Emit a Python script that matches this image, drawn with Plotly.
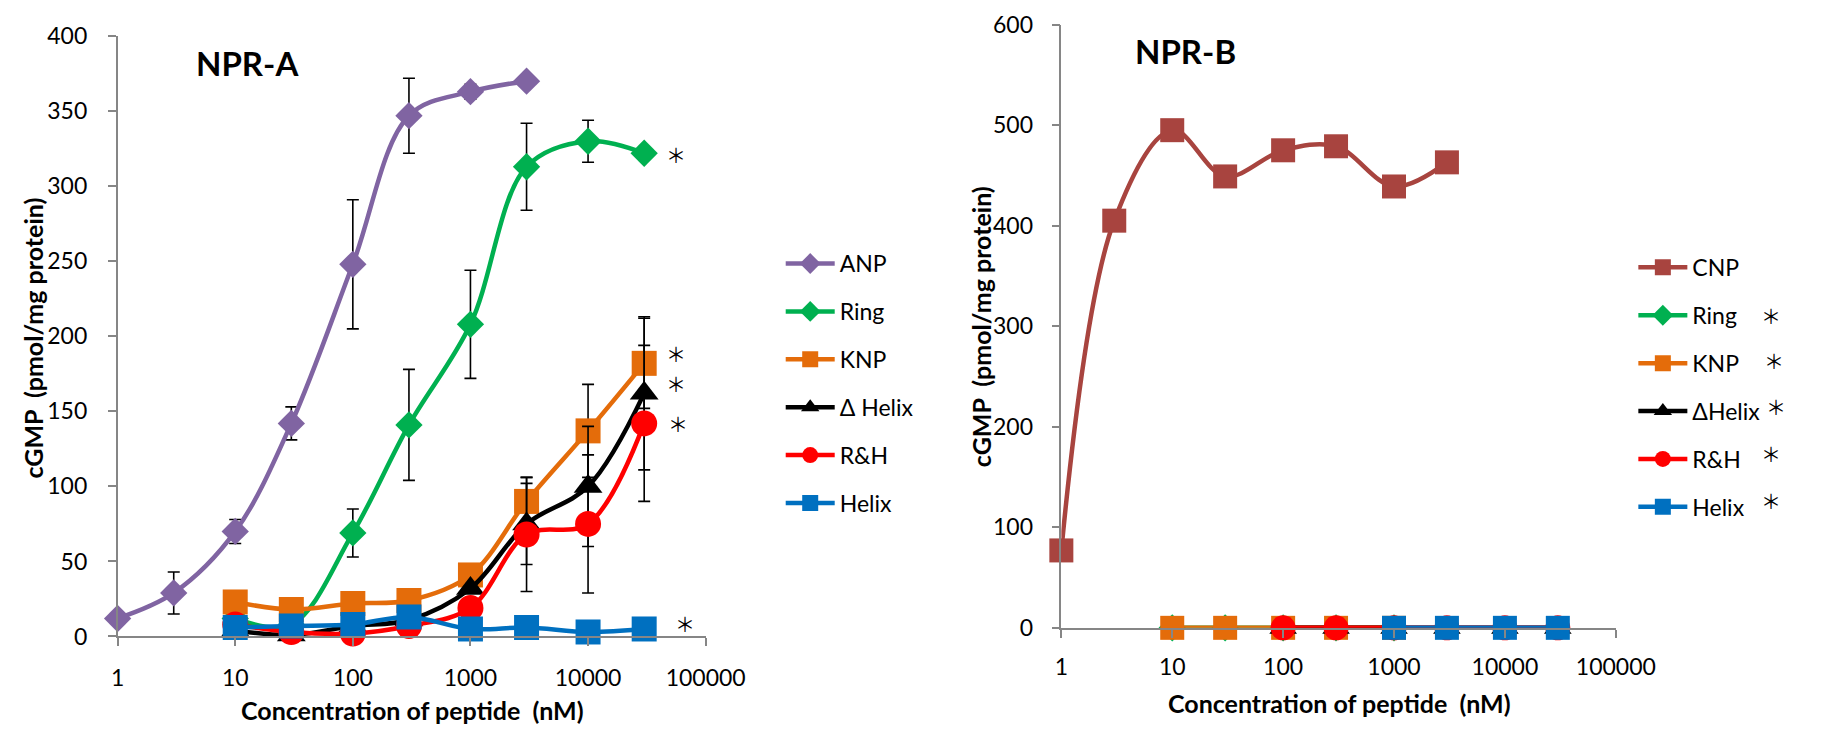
import plotly.graph_objects as go

W, H = 1839, 738

# ---------------- data (NPR-A) ----------------
conc_anp = [1, 3, 10, 30, 100, 300, 1000, 3000]
anp = [12, 29, 70, 142, 248, 347, 363, 370]
anp_err = [0, 14, 8, 11, 43, 25, 5, 0]

conc_a = [10, 30, 100, 300, 1000, 3000, 10000, 30000]
ring_a = [12, 8, 69, 141, 208, 313, 330, 322]
ring_a_err = [0, 0, 16, 37, 36, 29, 14, 0]
knp_a = [23, 18, 22, 24, 41, 90, 137, 182]
knp_a_err = [0, 0, 0, 0, 0, 16, 31, 30]
dhelix_a = [4, 1, 7, 11, 32, 75, 100, 162]
dhelix_a_err = [0, 0, 0, 0, 0, 27, 40, 51]
rh_a = [8, 3, 2, 7, 19, 68, 75, 142]
rh_a_err = [0, 0, 0, 0, 0, 38, 46, 52]
helix_a = [6, 7, 8, 13, 5, 6, 3, 5]

# ---------------- data (NPR-B) ----------------
conc_cnp = [1, 3, 10, 30, 100, 300, 1000, 3000]
cnp = [77, 405, 495, 449, 475, 479, 439, 463]
cnp_err = [0, 0, 3, 3, 7, 6, 10, 9]
conc_ring_b = [10, 30, 100, 300, 1000]
ring_b = [0, 0, 0, 0, 0]
conc_knp_b = [10, 30, 100, 300, 1000]
knp_b = [0, 0, 0, 0, 0]
conc_dhelix_b = [100, 300, 1000, 3000, 10000, 30000]
dhelix_b = [0, 0, 0, 0, 0, 0]
conc_rh_b = [100, 300, 1000, 3000, 10000, 30000]
rh_b = [0, 0, 0, 0, 0, 0]
conc_helix_b = [1000, 3000, 10000, 30000]
helix_b = [0, 0, 0, 0]

x_ticks = [1, 10, 100, 1000, 10000, 100000]
x_tick_text = ["1", "10", "100", "1000", "10000", "100000"]

C_ANP = "#8064A2"
C_RING = "#00B050"
C_KNP = "#E46C0A"
C_DH = "#000000"
C_RH = "#FF0000"
C_HELIX = "#0070C0"
C_CNP = "#A8443F"

FONT = "Lato, 'Open Sans', 'DejaVu Sans', sans-serif"
STAR_FONT = "'Noto Sans CJK SC', 'DejaVu Sans', sans-serif"


def px(x):
    return x / W


def py(y):
    return 1 - y / H


fig = go.Figure()


def add(x, y, name, color, symbol, size, err=None, axes=("x", "y"), legend="legend"):
    tr = dict(
        x=x, y=y, name=name, mode="lines+markers",
        line=dict(color=color, width=4.5, shape="spline", smoothing=1.0),
        marker=dict(color=color, symbol=symbol, size=size, line=dict(width=0)),
        xaxis=axes[0], yaxis=axes[1], legend=legend, legendgroup=legend + name,
        cliponaxis=False,
    )
    if err is not None:
        tr["error_y"] = dict(type="data", array=err, visible=True, color="black",
                             thickness=1.6, width=6)
    fig.add_trace(go.Scatter(**tr))


# NPR-A
add(conc_anp, anp, "ANP", C_ANP, "diamond", 21, anp_err)
add(conc_a, ring_a, "Ring", C_RING, "diamond", 21, ring_a_err)
add(conc_a, knp_a, "KNP", C_KNP, "square", 25, knp_a_err)
add(conc_a, dhelix_a, "Δ Helix", C_DH, "triangle-up", 25, dhelix_a_err)
add(conc_a, rh_a, "R&H", C_RH, "circle", 26, rh_a_err)
add(conc_a, helix_a, "Helix", C_HELIX, "square", 25)

# NPR-B
ax2 = ("x2", "y2")
add(conc_cnp, cnp, "CNP", C_CNP, "square", 24, cnp_err, ax2, "legend2")
add(conc_ring_b, ring_b, "Ring", C_RING, "diamond", 21, None, ax2, "legend2")
add(conc_knp_b, knp_b, "KNP", C_KNP, "square", 24, None, ax2, "legend2")
add(conc_dhelix_b, dhelix_b, "ΔHelix", C_DH, "triangle-up", 24, None, ax2, "legend2")
add(conc_rh_b, rh_b, "R&H", C_RH, "circle", 25, None, ax2, "legend2")
add(conc_helix_b, helix_b, "Helix", C_HELIX, "square", 24, None, ax2, "legend2")

axis_common = dict(
    showline=True, linecolor="#868686", linewidth=1.5,
    ticks="outside", ticklen=8, tickwidth=1.5, tickcolor="#868686",
    showgrid=False, zeroline=False,
    tickfont=dict(family=FONT, size=23, color="black"),
)

legend_common = dict(
    xanchor="left", yanchor="top",
    font=dict(family=FONT, size=23, color="black"),
    traceorder="grouped", tracegroupgap=15, itemwidth=49,
    bgcolor="rgba(0,0,0,0)",
)

fig.update_layout(
    width=W, height=H,
    margin=dict(l=0, r=0, t=0, b=0),
    paper_bgcolor="white", plot_bgcolor="white",
    font=dict(family=FONT, color="black"),
    xaxis=dict(domain=[px(113.5), px(717)], type="log", range=[0, 5],
               tickmode="array", tickvals=x_ticks, ticktext=x_tick_text,
               anchor="y", ticklabelstandoff=12, **axis_common),
    yaxis=dict(domain=[py(646), py(22)], range=[0, 400], dtick=50,
               anchor="x", ticklabelstandoff=16, **axis_common),
    xaxis2=dict(domain=[px(1082), px(1651)], type="log", range=[0, 5],
                tickmode="array", tickvals=x_ticks, ticktext=x_tick_text,
                anchor="y2", ticklabelstandoff=10, **axis_common),
    yaxis2=dict(domain=[py(637), py(10)], range=[0, 600], dtick=100,
                anchor="x2", ticklabelstandoff=14, **axis_common),
    legend=dict(x=px(799 - 5), y=py(236), **legend_common),
    legend2=dict(x=px(1674 - 5), y=py(240), **legend_common),
    showlegend=True,
)

ann = []


def text(x, y, s, size, bold=False, angle=0, family=FONT):
    ann.append(dict(
        x=px(x), y=py(y), xref="paper", yref="paper", text=("<b>%s</b>" % s) if bold else s,
        showarrow=False, xanchor="center", yanchor="middle", textangle=angle,
        font=dict(family=family, size=size, color="black"),
    ))


text(247, 50, "NPR-A", 33, True)
text(1209, 37, "NPR-B", 33, True)
text(416, 722, "Concentration of peptide\u00a0 (nM)", 25, True)
text(1367, 715, "Concentration of peptide\u00a0 (nM)", 25, True)
text(27, 336, "cGMP\u00a0 (pmol/mg protein)", 25, True, -90)
text(999, 324, "cGMP\u00a0 (pmol/mg protein)", 25, True, -90)

# significance asterisks
for (x, y) in [(687, 145), (687, 352), (687, 383), (689, 425), (696, 633),
               (1810, 312), (1813, 359), (1815, 407), (1810, 456), (1810, 505)]:
    text(x, y, "＊", 20, family=STAR_FONT)

fig.update_layout(annotations=ann)

fig.write_html("out.html")
